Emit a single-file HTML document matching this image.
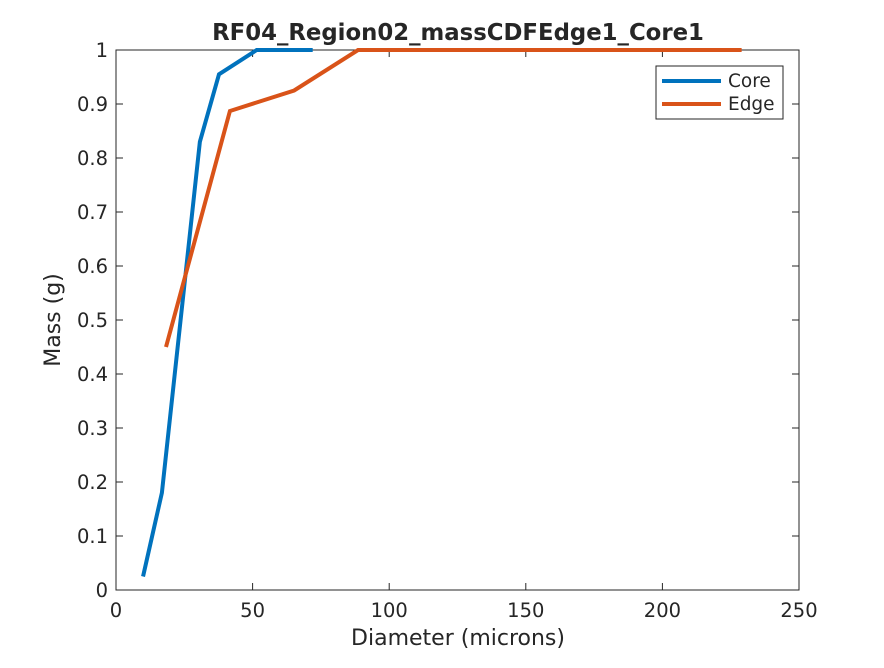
<!DOCTYPE html>
<html><head><meta charset="utf-8"><style>
body{margin:0;background:#fff;}
svg text{font-family:"DejaVu Sans","Liberation Sans",sans-serif;fill:#262626;}
</style></head><body>
<svg id="chart" width="884" height="663" xmlns="http://www.w3.org/2000/svg">
<rect width="884" height="663" fill="#fff"/>
<rect x="116" y="50" width="683" height="540" fill="#fff" stroke="#262626" stroke-width="1"/>
<g id="ticks"></g>
<g id="series"></g>
<text x="458" y="40" text-anchor="middle" font-size="22.8" font-weight="bold" fill="#000">RF04_Region02_massCDFEdge1_Core1</text>
<text x="458" y="645" text-anchor="middle" font-size="22">Diameter (microns)</text>
<text x="60" y="320" text-anchor="middle" font-size="22" transform="rotate(-90 60 320)">Mass (g)</text>
<g>
<rect x="656" y="66" width="127" height="53" fill="#fff" stroke="#262626"/>
<g><line x1="662" y1="81" x2="721" y2="81" stroke="#0072BD" stroke-width="4"/><text x="728" y="87" font-size="18.5">Core</text></g>
<g><line x1="662" y1="104" x2="721" y2="104" stroke="#D95319" stroke-width="4"/><text x="728" y="110" font-size="18.5">Edge</text></g>
</g>
</svg>
<script>
const xTicks=[0,50,100,150,200,250];
const yTicks=[0,0.1,0.2,0.3,0.4,0.5,0.6,0.7,0.8,0.9,1];
const yTickLabels=["0","0.1","0.2","0.3","0.4","0.5","0.6","0.7","0.8","0.9","1"];
const coreX=[9.9,16.8,30.7,37.7,51.5,72];
const coreY=[0.025,0.18,0.83,0.955,1,1];
const edgeX=[18.3,41.7,65.2,88.6,229];
const edgeY=[0.45,0.887,0.925,1,1];
const X0=116,X1=799,Y0=590,Y1=50;
const sx=v=>X0+(v-0)/(250-0)*(X1-X0);
const sy=v=>Y0-(v-0)/(1-0)*(Y0-Y1);
const NS="http://www.w3.org/2000/svg";
const tg=document.getElementById('ticks');
function mk(tag,attrs,parent){const e=document.createElementNS(NS,tag);for(const k in attrs)e.setAttribute(k,attrs[k]);parent.appendChild(e);return e;}
xTicks.forEach(t=>{
  const x=sx(t);
  const l=mk('line',{x1:x,x2:x,y1:Y0,y2:Y0-7,stroke:'#262626'},tg);
  
  
  mk('line',{x1:x,x2:x,y1:Y1,y2:Y1+7,stroke:'#262626'},tg);
  const tx=mk('text',{x:x,y:Y0+27,'text-anchor':'middle','font-size':'19.5'},tg);
  tx.textContent=t;
  
  
});
yTicks.forEach((t,i)=>{
  const y=sy(t);
  const l=mk('line',{x1:X0,x2:X0+7,y1:y,y2:y,stroke:'#262626'},tg);
  
  
  mk('line',{x1:X1,x2:X1-7,y1:y,y2:y,stroke:'#262626'},tg);
  const tx=mk('text',{x:X0-8,y:y+7,'text-anchor':'end','font-size':'19.5'},tg);
  tx.textContent=yTickLabels[i];
  
  
});
const sg=document.getElementById('series');
function line(xs,ys,color,name){
  const p=mk('polyline',{points:xs.map((v,i)=>sx(v)+','+sy(ys[i])).join(' '),fill:'none',stroke:color,'stroke-width':4,'stroke-linejoin':'miter'},sg);
  
  
}
line(coreX,coreY,'#0072BD','core-line');
line(edgeX,edgeY,'#D95319','edge-line');
</script>
</body></html>
